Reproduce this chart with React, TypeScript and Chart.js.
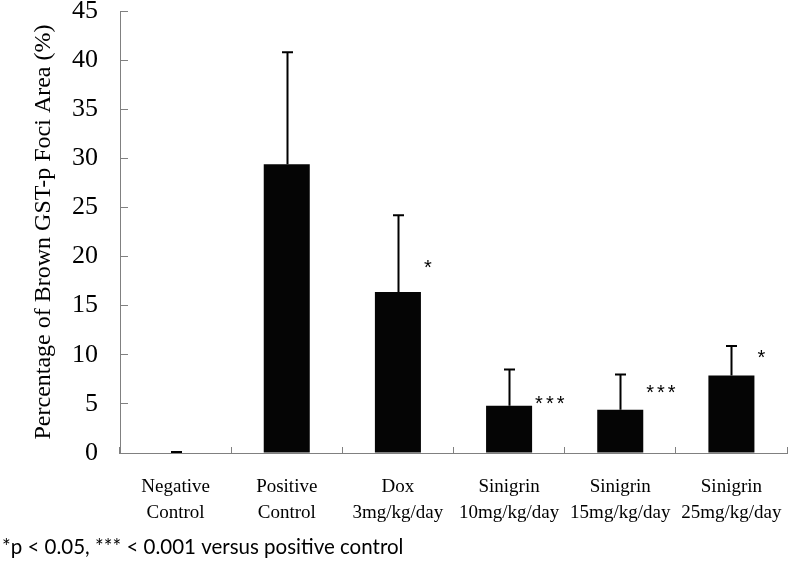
import React, { useEffect, useRef } from "react";
import { Chart, registerables } from "chart.js";

Chart.register(...registerables);

const categories: string[][] = [
  ["Negative", "Control"],
  ["Positive", "Control"],
  ["Dox", "3mg/kg/day"],
  ["Sinigrin", "10mg/kg/day"],
  ["Sinigrin", "15mg/kg/day"],
  ["Sinigrin", "25mg/kg/day"],
];
const meanValues = [0.05, 29.4, 16.4, 4.8, 4.4, 7.9];
const errorTops = [0.1, 40.8, 24.2, 8.5, 8.0, 10.9];
const sigMarks = ["", "", "*", "***", "***", "*"];
const sigLevels: (number | null)[] = [null, null, 19.3, 5.5, 6.6, 10.2];
const yMin = 0;
const yMax = 45;
const yStep = 5;
const yTitle = "Percentage of Brown GST-p Foci Area (%)";
const footnote = "*p < 0.05, *** < 0.001 versus positive control";

const SERIF = '"Liberation Serif", "DejaVu Serif", serif';
const AXIS_GRAY = "#808080";

const errorBarPlugin = {
  id: "errorBars",
  afterDatasetsDraw(chart: any) {
    const ctx = chart.ctx;
    const meta = chart.getDatasetMeta(0);
    const yScale = chart.scales.y;
    ctx.save();
    ctx.strokeStyle = "#000";
    ctx.lineWidth = 2;
    meta.data.forEach((el: any, i: number) => {
      const top = yScale.getPixelForValue(errorTops[i]);
      const x = Math.round(el.x) + 0.5;
      ctx.beginPath();
      ctx.moveTo(x, el.y);
      ctx.lineTo(x, top);
      ctx.moveTo(x - 5.5, top);
      ctx.lineTo(x + 5.5, top);
      ctx.stroke();
    });
    // significance marks
    ctx.fillStyle = "#000";
    ctx.font = '20px "Liberation Sans", Arial, sans-serif';
    (ctx as any).letterSpacing = "3px";
    ctx.textAlign = "left";
    ctx.textBaseline = "alphabetic";
    meta.data.forEach((el: any, i: number) => {
      const lvl = sigLevels[i];
      if (lvl === null || !sigMarks[i]) return;
      const py = yScale.getPixelForValue(lvl);
      ctx.fillText(sigMarks[i], el.x + el.width / 2 + 3, py + 11);
    });
    (ctx as any).letterSpacing = "0px";
    // footnote
    ctx.font = '20.5px Lato, "Open Sans", sans-serif';
    ctx.textBaseline = "middle";
    ctx.fillText(footnote, 2, chart.height - 17);
    ctx.restore();
  },
};

export default function App() {
  const canvasRef = useRef<HTMLCanvasElement>(null);

  useEffect(() => {
    if (!canvasRef.current) return;
    const chart = new Chart(canvasRef.current, {
      type: "bar",
      data: {
        labels: categories,
        datasets: [
          {
            data: meanValues,
            backgroundColor: "#050505",
            borderWidth: 0,
            barPercentage: 0.414,
            categoryPercentage: 1,
          },
        ],
      },
      options: {
        responsive: false,
        animation: false,
        layout: { padding: { top: 11, right: 4, bottom: 0, left: 0 } },
        plugins: {
          legend: { display: false },
          tooltip: { enabled: false },
          title: { display: false },
        },
        scales: {
          x: {
            offset: true,
            grid: {
              offset: true,
              drawOnChartArea: false,
              drawTicks: true,
              tickLength: -6,
              color: AXIS_GRAY,
            },
            border: { color: AXIS_GRAY, width: 1 },
            ticks: {
              color: "#000",
              font: { family: SERIF, size: 19, lineHeight: 1.38 },
              padding: 27,
              maxRotation: 0,
              autoSkip: false,
            },
            afterFit(scale: any) {
              scale.height = 111;
              scale.paddingLeft = 0;
              scale.paddingRight = 0;
            },
          },
          y: {
            min: yMin,
            max: yMax,
            grid: {
              drawOnChartArea: false,
              drawTicks: true,
              tickLength: -8,
              color: AXIS_GRAY,
            },
            border: { color: AXIS_GRAY, width: 1 },
            ticks: {
              stepSize: yStep,
              color: "#000",
              font: { family: SERIF, size: 26 },
              padding: 30,
            },
            title: {
              display: true,
              text: yTitle,
              color: "#000",
              font: { family: SERIF, size: 24 },
              padding: { top: 29, bottom: 0 },
            },
            afterFit(scale: any) {
              scale.width = 120;
              scale.paddingTop = 0;
              scale.paddingBottom = 0;
            },
          },
        },
      },
      plugins: [errorBarPlugin],
    });
    return () => chart.destroy();
  }, []);

  return (
    <div style={{ position: "absolute", left: 0, top: 0, width: 791, height: 564, background: "#fff" }}>
      <canvas ref={canvasRef} width={791} height={564} style={{ width: 791, height: 564 }} />
    </div>
  );
}
